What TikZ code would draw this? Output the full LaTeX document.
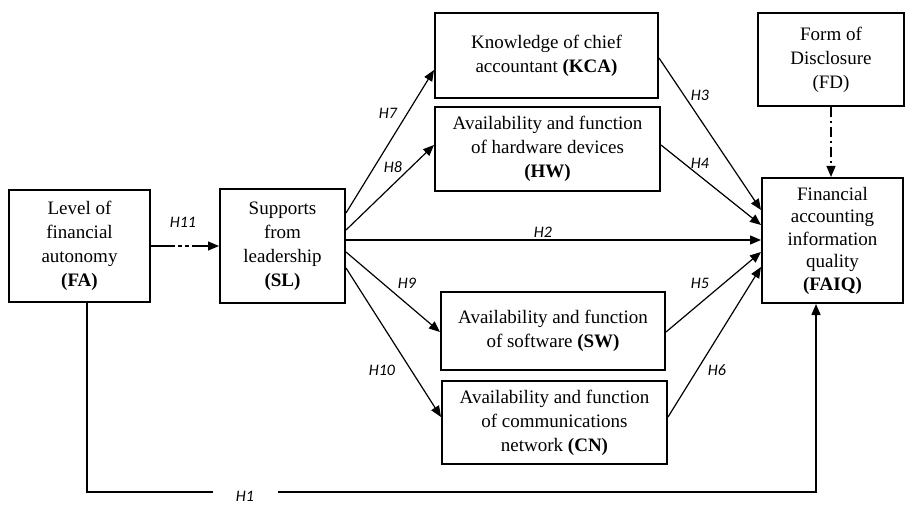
\documentclass[tikz,border=0pt]{standalone}
\usepackage{fontspec}
\setmainfont{Liberation Serif}
\newfontfamily\boxfont{Liberation Serif}
\newfontfamily\hypfont{Carlito}
\usetikzlibrary{arrows.meta}
\tikzset{
  construct/.style={draw,line width=2pt,align=center,inner sep=2pt,font=\boxfont\fontsize{19}{24}\selectfont},
  link/.style={line width=1.2pt,-{Triangle[length=11pt,width=9pt]}},
  hyp/.style={font=\hypfont\itshape\fontsize{16}{18}\selectfont,inner sep=0pt}
}
\begin{document}
\begin{tikzpicture}[x=1pt,y=1pt]
\useasboundingbox (0,0) rectangle (905,504);
\node[construct,minimum width=141pt,minimum height=112pt] (FA) at (79.5,258) {Level of\\ financial\\ autonomy\\ \textbf{(FA)}};
\node[construct,minimum width=125pt,minimum height=114pt] (SL) at (282.5,258) {Supports\\ from\\ leadership\\ \textbf{(SL)}};
\node[construct,minimum width=223pt,minimum height=85pt] (KCA) at (546.5,448.5) {Knowledge of chief\\ accountant \textbf{(KCA)}};
\node[construct,minimum width=225pt,minimum height=84pt] (HW) at (547.5,355) {Availability and function\\ of hardware devices\\ \textbf{(HW)}};
\node[construct,minimum width=224pt,minimum height=78pt] (SW) at (553,173) {Availability and function\\ of software \textbf{(SW)}};
\node[construct,minimum width=225pt,minimum height=83pt] (CN) at (554.5,81.5) {Availability and function\\ of communications\\ network \textbf{(CN)}};
\node[construct,minimum width=146pt,minimum height=93pt] (FD) at (831,444.5) {Form of\\ Disclosure\\ (FD)};
\node[construct,minimum width=141pt,minimum height=125pt,font=\boxfont\fontsize{19}{22.5}\selectfont] (FAIQ) at (832.5,263.5) {Financial\\ accounting\\ information\\ quality\\ \textbf{(FAIQ)}};

\draw[link,dash pattern=on 24pt off 3pt on 4pt off 3pt on 4pt off 3pt on 40pt] (FA.east) -- (SL.west);
\draw[link] ([yshift=33pt]SL.east) -- ([yshift=-14.5pt]KCA.west);
\draw[link] ([yshift=16pt]SL.east) -- ([yshift=4pt]HW.west);
\coordinate (h2s) at ([yshift=6pt]SL.east);
\draw[link] (h2s) -- (h2s -| FAIQ.west);
\draw[link] ([yshift=-6pt]SL.east) -- ([yshift=-1pt]SW.west);
\draw[link] ([yshift=-22pt]SL.east) -- ([yshift=5.5pt]CN.west);
\draw[link] ([yshift=-2.5pt]KCA.east) -- ([yshift=30.5pt]FAIQ.west);
\draw[link] ([yshift=4pt]HW.east) -- ([yshift=15.5pt]FAIQ.west);
\draw[link] ([yshift=-1pt]SW.east) -- ([yshift=-11.5pt]FAIQ.west);
\draw[link] ([yshift=5.5pt]CN.east) -- ([yshift=-26.5pt]FAIQ.west);
\draw[link,dash pattern=on 10pt off 4pt on 2pt off 4pt] (FD.south) -- (FD.south |- FAIQ.north);
\coordinate (h1l) at (213,12);
\coordinate (h1r) at (278,12);
\draw[line width=1.5pt] ([xshift=7.5pt]FA.south) |- (h1l);
\draw[link,line width=1.5pt] (h1r) -| ([xshift=-16.5pt]FAIQ.south);

\node[hyp] (h11) at (183,282) {H11};
\node[hyp] (h7) at (388,391) {H7};
\node[hyp] (h8) at (393,337) {H8};
\node[hyp] (h3) at (700,409) {H3};
\node[hyp] (h4) at (700,341) {H4};
\node[hyp] (h2) at (543,272) {H2};
\node[hyp] (h9) at (407,221) {H9};
\node[hyp] (h5) at (700,221) {H5};
\node[hyp] (h10) at (382,134) {H10};
\node[hyp] (h6) at (717,134) {H6};
\node[hyp] (h1) at (245,7.5) {H1};
\end{tikzpicture}
\end{document}
